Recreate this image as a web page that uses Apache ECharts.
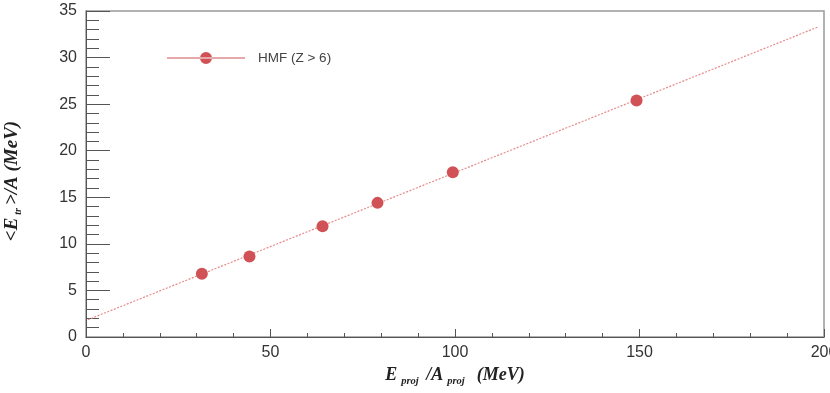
<!DOCTYPE html>
<html>
<head>
<meta charset="utf-8">
<script src="https://cdn.jsdelivr.net/npm/echarts@6/dist/echarts.min.js"></script>
<style>
    html, body { margin: 0; padding: 0; background: #fff; }
    #chart { width: 830px; height: 393px; }
</style>
</head>
<body>
<div id="chart"></div>
<script>
    // data points (E_proj/A_proj, <E_tr>/A)
    var eProj = [31.4, 44.3, 64.1, 79.0, 99.4, 149.2];
    var eTr = [6.8, 8.65, 11.9, 14.4, 17.7, 25.4];
    // linear fit line endpoints
    var fitX = [0.5, 198.5];
    var fitY = [1.85, 33.3];

    var xTicks = [0, 50, 100, 150, 200];
    var yTicks = [0, 5, 10, 15, 20, 25, 30, 35];

    var chart = echarts.init(document.getElementById('chart'));

    var pts = eProj.map(function (x, i) { return [x, eTr[i]]; });
    var fit = fitX.map(function (x, i) { return [x, fitY[i]]; });

    // legend icon: thin line with a dot in the middle (78 x 12 box)
    var legendIcon = 'path://M0,5.5 L78,5.5 L78,6.5 L0,6.5 Z M33,6 A6,6 0 1 0 45,6 A6,6 0 1 0 33,6 Z';

    var option = {
        animation: false,
        grid: {
            left: 86, right: 6, top: 11, bottom: 56,
            outerBoundsMode: 'none', containLabel: false,
            show: true, borderColor: '#999', borderWidth: 1.5
        },
        legend: {
            left: 162, top: 46,
            itemWidth: 78, itemHeight: 12, itemGap: 10,
            data: [{ name: 'HMF (Z > 6)', icon: legendIcon }],
            textStyle: { fontFamily: 'Liberation Sans', fontSize: 13.5, color: '#444', padding: [0, 0, 0, 8] }
        },
        xAxis: {
            type: 'value', min: 0, max: 200, interval: 50,
            axisLine: { lineStyle: { color: '#555', width: 1 } },
            axisTick: { inside: true, length: 8, lineStyle: { color: '#555' } },
            minorTick: { show: true, splitNumber: 5, length: 4, lineStyle: { color: '#555' } },
            splitLine: { show: false },
            axisLabel: {
                fontFamily: 'Liberation Sans', fontSize: 16, color: '#333', margin: 8,
                formatter: function (v) { return xTicks.indexOf(v) >= 0 ? String(v) : ''; }
            },
            name: '{b|E}{s|proj}{b| /A}{s|proj}{b|  (MeV)}',
            nameLocation: 'middle', nameGap: 22,
            nameTextStyle: {
                rich: {
                    b: { fontFamily: 'Liberation Serif', fontStyle: 'italic', fontWeight: 'bold', fontSize: 18, color: '#222' },
                    s: { fontFamily: 'Liberation Serif', fontStyle: 'italic', fontWeight: 'bold', fontSize: 10.5, color: '#222', padding: [12, 3, 0, 4] }
                }
            }
        },
        yAxis: {
            type: 'value', min: 0, max: 35, interval: 5,
            axisLine: { lineStyle: { color: '#555', width: 1 } },
            axisTick: { inside: true, length: 24, lineStyle: { color: '#555' } },
            minorTick: { show: true, splitNumber: 5, length: 13, lineStyle: { color: '#555' } },
            splitLine: { show: false },
            axisLabel: {
                fontFamily: 'Liberation Sans', fontSize: 16, color: '#333', margin: 9,
                formatter: function (v) { return yTicks.indexOf(v) >= 0 ? String(v) : ''; }
            },
            name: '{b|<E}{s|tr}{b|>/A (MeV)}',
            nameLocation: 'middle', nameGap: 63, nameRotate: 90,
            nameTextStyle: {
                padding: [0, 14, 0, 0],
                rich: {
                    b: { fontFamily: 'Liberation Serif', fontStyle: 'italic', fontWeight: 'bold', fontSize: 19, color: '#222' },
                    s: { fontFamily: 'Liberation Serif', fontStyle: 'italic', fontWeight: 'bold', fontSize: 10, color: '#222', padding: [12, 3, 0, 3] }
                }
            }
        },
        series: [
            {
                name: 'fit',
                type: 'line',
                data: fit,
                symbol: 'none',
                lineStyle: { color: '#e88a8a', width: 1.2, type: [2, 1.5] },
                z: 2
            },
            {
                name: 'HMF (Z > 6)',
                type: 'scatter',
                data: pts,
                symbol: 'circle',
                symbolSize: 12,
                itemStyle: { color: '#d05257', opacity: 1 },
                z: 3
            }
        ]
    };

    chart.setOption(option);
</script>
</body>
</html>
